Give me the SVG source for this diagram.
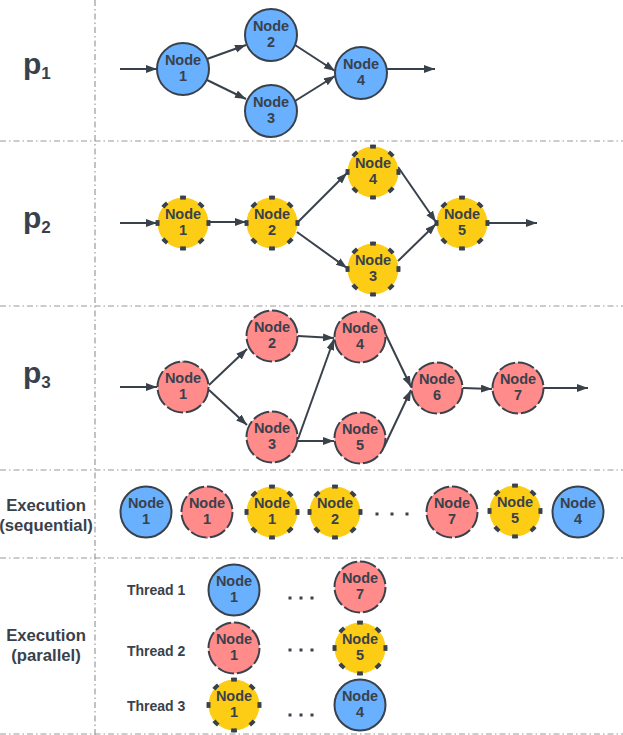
<svg xmlns="http://www.w3.org/2000/svg" width="623" height="735" viewBox="0 0 623 735">
<style>
.grid{stroke:#9a9a9a;stroke-width:1.2;stroke-dasharray:6 3 1.5 3;fill:none}
.n circle{stroke:#39414b}
.blue circle{fill:#69b0ff;stroke-width:2}
.red circle{fill:#ff8b8b;stroke-width:2;stroke-dasharray:17 3}
.yel circle{fill:#fdcd16;stroke-width:4;stroke-dasharray:6 14;stroke-dashoffset:3}
.n text{font-family:"Liberation Sans",Arial,sans-serif;font-weight:bold;font-size:14.5px;fill:#39414b;text-anchor:middle}
.lbl{font-family:"Liberation Sans",Arial,sans-serif;font-weight:bold;fill:#39414b}
.ex{font-size:16.7px;text-anchor:middle}
.th{font-size:14px}
.pl{font-size:30px}
.c line{stroke:#39414b;stroke-width:2;marker-end:url(#ah)}
.dot{fill:#39414b}
</style>
<defs>
<marker id="ah" markerUnits="userSpaceOnUse" markerWidth="12" markerHeight="9" refX="11" refY="4" orient="auto">
<path d="M0,0 L11,4 L0,8 z" fill="#39414b"/>
</marker>
</defs>
<rect width="623" height="735" fill="#ffffff"/>
<g id="grid">
<line class="grid" x1="95" y1="0" x2="95" y2="735"/>
<line class="grid" x1="0" y1="141" x2="623" y2="141"/>
<line class="grid" x1="0" y1="306" x2="623" y2="306"/>
<line class="grid" x1="0" y1="470" x2="623" y2="470"/>
<line class="grid" x1="0" y1="558" x2="623" y2="558"/>
<line class="grid" x1="0" y1="734" x2="623" y2="734"/>
</g>
<g id="labels">
<text class="lbl pl" x="23" y="74">p<tspan font-size="17" dy="5">1</tspan></text>
<text class="lbl pl" x="23" y="228">p<tspan font-size="17" dy="5">2</tspan></text>
<text class="lbl pl" x="23" y="383">p<tspan font-size="17" dy="5">3</tspan></text>
<text class="lbl ex" x="46" y="511">Execution</text>
<text class="lbl ex" x="46" y="531">(sequential)</text>
<text class="lbl ex" x="46" y="641">Execution</text>
<text class="lbl ex" x="46" y="661">(parallel)</text>
<text class="lbl th" x="127" y="595">Thread 1</text>
<text class="lbl th" x="127" y="656">Thread 2</text>
<text class="lbl th" x="127" y="711">Thread 3</text>
</g>
<g id="connectors" class="c">
<line x1="120" y1="69" x2="157" y2="69"/>
<line x1="207" y1="59" x2="246" y2="45"/>
<line x1="207" y1="80" x2="246" y2="99"/>
<line x1="295" y1="45" x2="335" y2="71"/>
<line x1="295" y1="101" x2="335" y2="76"/>
<line x1="387" y1="69" x2="435" y2="69"/>
<line x1="120" y1="223" x2="157" y2="223"/>
<line x1="209" y1="222" x2="246" y2="222"/>
<line x1="298" y1="222" x2="347" y2="173"/>
<line x1="297" y1="232" x2="347" y2="268"/>
<line x1="398" y1="167" x2="436" y2="222"/>
<line x1="398" y1="261" x2="436" y2="224"/>
<line x1="488" y1="223" x2="537" y2="223"/>
<line x1="120" y1="387" x2="157" y2="387"/>
<line x1="209" y1="385" x2="247" y2="349"/>
<line x1="209" y1="390" x2="247" y2="425"/>
<line x1="298" y1="336" x2="334" y2="338"/>
<line x1="298" y1="439" x2="334" y2="339"/>
<line x1="298" y1="441" x2="334" y2="441"/>
<line x1="385" y1="333" x2="411" y2="387"/>
<line x1="384" y1="447" x2="411" y2="390"/>
<line x1="463" y1="388" x2="492" y2="389"/>
<line x1="543" y1="388" x2="588" y2="388"/>
</g>
<g id="p1-n1" class="n blue"><circle cx="183" cy="69" r="26"/><text x="183" y="65">Node</text><text x="183" y="81">1</text></g>
<g id="p1-n2" class="n blue"><circle cx="271" cy="35" r="26"/><text x="271" y="31">Node</text><text x="271" y="47">2</text></g>
<g id="p1-n3" class="n blue"><circle cx="271" cy="111" r="26"/><text x="271" y="107">Node</text><text x="271" y="123">3</text></g>
<g id="p1-n4" class="n blue"><circle cx="361" cy="73" r="26"/><text x="361" y="69">Node</text><text x="361" y="85">4</text></g>
<g id="p2-n1" class="n yel"><circle cx="183" cy="223" r="25.5" pathLength="160"/><text x="183" y="219">Node</text><text x="183" y="235">1</text></g>
<g id="p2-n2" class="n yel"><circle cx="272" cy="223" r="25.5" pathLength="160"/><text x="272" y="219">Node</text><text x="272" y="235">2</text></g>
<g id="p2-n4" class="n yel"><circle cx="373" cy="172" r="25.5" pathLength="160"/><text x="373" y="168">Node</text><text x="373" y="184">4</text></g>
<g id="p2-n3" class="n yel"><circle cx="373" cy="269" r="25.5" pathLength="160"/><text x="373" y="265">Node</text><text x="373" y="281">3</text></g>
<g id="p2-n5" class="n yel"><circle cx="462" cy="223" r="25.5" pathLength="160"/><text x="462" y="219">Node</text><text x="462" y="235">5</text></g>
<g id="p3-n1" class="n red"><circle cx="183" cy="387" r="25.5" pathLength="160"/><text x="183" y="383">Node</text><text x="183" y="399">1</text></g>
<g id="p3-n2" class="n red"><circle cx="272" cy="336" r="25.5" pathLength="160"/><text x="272" y="332">Node</text><text x="272" y="348">2</text></g>
<g id="p3-n3" class="n red"><circle cx="272" cy="437" r="25.5" pathLength="160"/><text x="272" y="433">Node</text><text x="272" y="449">3</text></g>
<g id="p3-n4" class="n red"><circle cx="360" cy="337" r="25.5" pathLength="160"/><text x="360" y="333">Node</text><text x="360" y="349">4</text></g>
<g id="p3-n5" class="n red"><circle cx="360" cy="438" r="25.5" pathLength="160"/><text x="360" y="434">Node</text><text x="360" y="450">5</text></g>
<g id="p3-n6" class="n red"><circle cx="437" cy="388" r="25.5" pathLength="160"/><text x="437" y="384">Node</text><text x="437" y="400">6</text></g>
<g id="p3-n7" class="n red"><circle cx="518" cy="388" r="25.5" pathLength="160"/><text x="518" y="384">Node</text><text x="518" y="400">7</text></g>
<g id="seq-1" class="n blue"><circle cx="146" cy="512" r="25.5"/><text x="146" y="508">Node</text><text x="146" y="524">1</text></g>
<g id="seq-2" class="n red"><circle cx="207" cy="512" r="25.5" pathLength="160"/><text x="207" y="508">Node</text><text x="207" y="524">1</text></g>
<g id="seq-3" class="n yel"><circle cx="272" cy="512" r="25.5" pathLength="160"/><text x="272" y="508">Node</text><text x="272" y="524">1</text></g>
<g id="seq-4" class="n yel"><circle cx="335" cy="512" r="25.5" pathLength="160"/><text x="335" y="508">Node</text><text x="335" y="524">2</text></g>
<g id="seq-dots"><rect class="dot" x="375.5" y="512.5" width="3" height="3"/><rect class="dot" x="390.5" y="512.5" width="3" height="3"/><rect class="dot" x="405.5" y="512.5" width="3" height="3"/></g>
<g id="seq-5" class="n red"><circle cx="452" cy="512" r="25.5" pathLength="160"/><text x="452" y="508">Node</text><text x="452" y="524">7</text></g>
<g id="seq-6" class="n yel"><circle cx="515" cy="511" r="25.5" pathLength="160"/><text x="515" y="507">Node</text><text x="515" y="523">5</text></g>
<g id="seq-7" class="n blue"><circle cx="578" cy="512" r="25.5"/><text x="578" y="508">Node</text><text x="578" y="524">4</text></g>
<g id="t1-a" class="n blue"><circle cx="234" cy="590" r="25.5"/><text x="234" y="586">Node</text><text x="234" y="602">1</text></g>
<g id="t2-a" class="n red"><circle cx="234" cy="648" r="25.5" pathLength="160"/><text x="234" y="644">Node</text><text x="234" y="660">1</text></g>
<g id="t3-a" class="n yel"><circle cx="234" cy="705" r="25.5" pathLength="160"/><text x="234" y="701">Node</text><text x="234" y="717">1</text></g>
<g id="par-dots"><rect class="dot" x="288.5" y="596.5" width="3" height="3"/><rect class="dot" x="299.5" y="596.5" width="3" height="3"/><rect class="dot" x="310.5" y="596.5" width="3" height="3"/><rect class="dot" x="288.5" y="648.5" width="3" height="3"/><rect class="dot" x="299.5" y="648.5" width="3" height="3"/><rect class="dot" x="310.5" y="648.5" width="3" height="3"/><rect class="dot" x="288.5" y="713.5" width="3" height="3"/><rect class="dot" x="299.5" y="713.5" width="3" height="3"/><rect class="dot" x="310.5" y="713.5" width="3" height="3"/></g>
<g id="t1-b" class="n red"><circle cx="360" cy="587" r="25.5" pathLength="160"/><text x="360" y="583">Node</text><text x="360" y="599">7</text></g>
<g id="t2-b" class="n yel"><circle cx="360" cy="648" r="25.5" pathLength="160"/><text x="360" y="644">Node</text><text x="360" y="660">5</text></g>
<g id="t3-b" class="n blue"><circle cx="360" cy="705" r="25.5"/><text x="360" y="701">Node</text><text x="360" y="717">4</text></g>
</svg>
